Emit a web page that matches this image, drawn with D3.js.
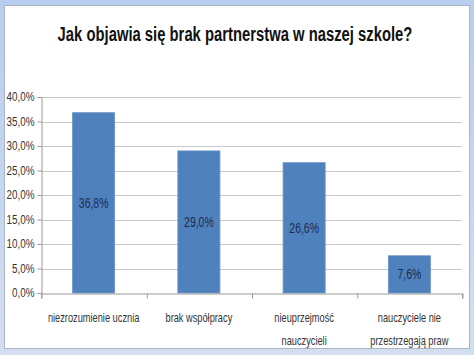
<!DOCTYPE html>
<html><head><meta charset="utf-8">
<script src="https://cdn.jsdelivr.net/npm/d3@7"></script>
<style>html,body{margin:0;padding:0;background:#c6d6ef;}svg{display:block;}</style>
</head><body>
<script>
const title = "Jak objawia się brak partnerstwa w naszej szkole?";
const categories = [["niezrozumienie ucznia"], ["brak współpracy"], ["nieuprzejmość", "nauczycieli"], ["nauczyciele nie", "przestrzegają praw"]];
const values = [36.8, 29.0, 26.6, 7.6];
const yTicks = [0, 5, 10, 15, 20, 25, 30, 35, 40];

const W = 474, H = 355;
const svg = d3.select("body").append("svg").attr("width", W).attr("height", H);
const defs = svg.append("defs");
const g1 = defs.append("linearGradient").attr("id","bg").attr("x1",0).attr("y1",0).attr("x2",0).attr("y2",1);
g1.append("stop").attr("offset","0").attr("stop-color","#b9cdee");
g1.append("stop").attr("offset","1").attr("stop-color","#d3def0");
svg.append("rect").attr("width",W).attr("height",H).attr("fill","url(#bg)");
svg.append("rect").attr("x",4.5).attr("y",5.5).attr("width",465).attr("height",343)
  .attr("fill","#fff").attr("stroke","#a9b4c4").attr("stroke-width",1);

const font = "'Liberation Sans',Arial,sans-serif";
function condense(sel, f) {
  sel.each(function() {
    const L = this.getComputedTextLength();
    d3.select(this).attr("textLength", L * f).attr("lengthAdjust", "spacingAndGlyphs");
  });
}

const tg = svg.append("g").attr("transform", "translate(235,41)");
const t = tg.append("text").attr("x",0).attr("y",0).attr("text-anchor","middle")
  .attr("font-family",font).attr("font-weight","bold").attr("font-size",20.5)
  .attr("fill","#111").text(title);
const tl = t.node().getComputedTextLength();
tg.attr("transform", `translate(235,41) scale(${355 / tl},1)`);

const x0 = 41, x1 = 462, yTop = 97, yBot = 293;
const x = d3.scaleBand().domain(d3.range(values.length)).range([x0, x1]).paddingInner(0.6).paddingOuter(0.3);
const y = d3.scaleLinear().domain([0, 40]).range([yBot, yTop]);

// gridlines
svg.append("g").selectAll("line").data(yTicks.filter(d => d > 0)).join("line")
  .attr("x1", x0).attr("x2", x1).attr("y1", d => Math.round(y(d)) + 0.5).attr("y2", d => Math.round(y(d)) + 0.5)
  .attr("stroke", "#c8c8c8").attr("stroke-width", 1);

// y axis
const yAxis = svg.append("g").attr("transform", `translate(${x0 + 0.5},0)`)
  .call(d3.axisLeft(y).tickValues(yTicks).tickSize(4).tickPadding(3)
    .tickFormat(d => d.toFixed(1).replace(".", ",") + "%"));
yAxis.select(".domain").attr("stroke", "#9a9a9a");
yAxis.selectAll(".tick line").attr("stroke", "#9a9a9a");
yAxis.selectAll("text").attr("font-family", font).attr("font-size", 12).attr("fill", "#333");
condense(yAxis.selectAll("text"), 0.82);

// bars
svg.append("g").selectAll("rect").data(values).join("rect")
  .attr("x", (d, i) => x(i)).attr("width", x.bandwidth())
  .attr("y", d => y(d)).attr("height", d => yBot - y(d))
  .attr("fill", "#4f81bd").attr("stroke", "#6d95c8").attr("stroke-width", 0.8);

// x axis
const xb = d3.scaleLinear().domain([0, values.length]).range([x0, x1]);
const xAxis = svg.append("g").attr("transform", `translate(0,${yBot + 0.5})`)
  .call(d3.axisBottom(xb).ticks(values.length).tickSize(5).tickFormat(""));
xAxis.select(".domain").attr("stroke", "#9a9a9a");
xAxis.selectAll(".tick line").attr("stroke", "#9a9a9a").attr("transform","translate(0.5,0)");

// category labels (each line its own text, horizontally scaled)
const lines = [];
categories.forEach((c, i) => c.forEach((s, j) => lines.push({ s, i, j })));
svg.append("g").selectAll("text").data(lines).join("text")
  .attr("text-anchor", "middle").attr("font-family", font).attr("font-size", 12.5).attr("fill", "#333")
  .attr("transform", d => `translate(${x(d.i) + x.bandwidth() / 2},${322 + d.j * 23}) scale(0.74,1)`)
  .text(d => d.s);

// value labels
svg.append("g").selectAll("text").data(values).join("text")
  .attr("text-anchor", "middle").attr("font-family", font).attr("font-size", 14.5).attr("fill", "#1b2d4e")
  .attr("transform", (d, i) => `translate(${x(i) + x.bandwidth() / 2},${(y(d) + yBot) / 2 + 5}) scale(0.72,1)`)
  .text(d => d.toFixed(1).replace(".", ",") + "%");
</script>
</body></html>
